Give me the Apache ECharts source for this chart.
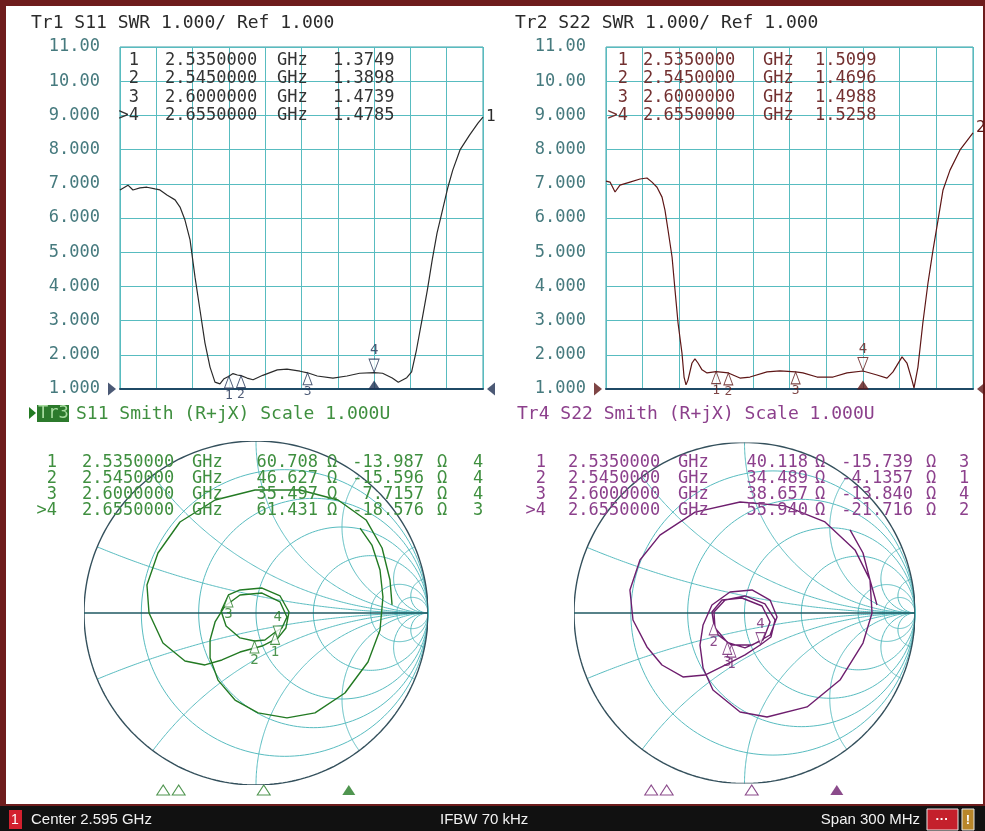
<!DOCTYPE html>
<html>
<head>
<meta charset="utf-8">
<script src="https://cdn.jsdelivr.net/npm/echarts@6/dist/echarts.min.js"></script>
<style>
  html, body { margin: 0; padding: 0; background: #fff; }
  #chart { width: 985px; height: 831px; }
</style>
</head>
<body>
<div id="chart"></div>
<script>
// sweep: center 2.595 GHz, span 300 MHz
const F_START = 2445; // MHz
const F_STOP = 2745;
const yLabels = ["11.00", "10.00", "9.000", "8.000", "7.000", "6.000", "5.000", "4.000", "3.000", "2.000", "1.000"];

// Tr1 S11 SWR (freq in MHz)
const s11Freq = [2445, 2451.6, 2455.7, 2461.5, 2467.3, 2473.9, 2478, 2483.8, 2490.5, 2494.6, 2498.7, 2502.9, 2507, 2511.1, 2515.2, 2519.4, 2523.5, 2527.6, 2531, 2535, 2538.4, 2542, 2545, 2550, 2555, 2563, 2575, 2583, 2593.8, 2600, 2608, 2621, 2632.6, 2643, 2655, 2662, 2670, 2675, 2682, 2686, 2690, 2695, 2699, 2703, 2707, 2711, 2716, 2720, 2726, 2734, 2741, 2745];
const s11Swr = [6.82, 6.96, 6.82, 6.88, 6.90, 6.85, 6.82, 6.67, 6.53, 6.32, 5.94, 5.36, 4.27, 3.31, 2.35, 1.64, 1.20, 1.15, 1.30, 1.3749, 1.45, 1.41, 1.3898, 1.32, 1.27, 1.40, 1.56, 1.58, 1.52, 1.4739, 1.38, 1.32, 1.38, 1.46, 1.4785, 1.46, 1.32, 1.20, 1.33, 1.50, 2.14, 3.10, 3.89, 4.77, 5.56, 6.15, 6.90, 7.40, 7.99, 8.43, 8.78, 8.95];

// Tr2 S22 SWR
const s22Freq = [2445, 2448.3, 2452.4, 2456.4, 2464.6, 2472.8, 2478.5, 2482.6, 2486.7, 2490.8, 2493.2, 2495.7, 2499, 2501.4, 2503.9, 2507.1, 2508.8, 2510.4, 2512, 2515.3, 2517.7, 2520.2, 2523.5, 2527.6, 2535, 2545, 2548.8, 2554.5, 2562.7, 2576.6, 2587.2, 2600, 2606, 2617.5, 2630.6, 2642, 2655, 2666.5, 2674.7, 2679.6, 2687, 2691, 2695.1, 2696.8, 2700, 2704, 2708.2, 2712.3, 2716.4, 2720.5, 2726.2, 2734.4, 2745];
const s22Swr = [7.08, 7.05, 6.76, 6.96, 7.05, 7.14, 7.17, 7.05, 6.90, 6.61, 6.23, 5.65, 4.86, 3.90, 2.93, 2.05, 1.35, 1.12, 1.26, 1.76, 1.88, 1.76, 1.56, 1.47, 1.5099, 1.4696, 1.41, 1.32, 1.35, 1.50, 1.53, 1.4988, 1.47, 1.35, 1.35, 1.47, 1.5258, 1.41, 1.32, 1.50, 1.94, 1.76, 1.26, 1.03, 1.64, 2.93, 4.10, 5.06, 5.94, 6.82, 7.40, 7.99, 8.49];

// markers
const markerIds = ["1", "2", "3", ">4"];
const markerFreq = [2535, 2545, 2600, 2655];
const markerFreqText = ["2.5350000", "2.5450000", "2.6000000", "2.6550000"];
const s11MarkerSwr = ["1.3749", "1.3898", "1.4739", "1.4785"];
const s22MarkerSwr = ["1.5099", "1.4696", "1.4988", "1.5258"];
const s11MarkerR = [60.708, 46.627, 35.497, 61.431];
const s11MarkerX = [-13.987, -15.596, 7.7157, -18.576];
const s11MarkerXText = ["-13.987", "-15.596", "7.7157", "-18.576"];
const s11MarkerTag = ["4", "4", "4", "3"];
const s22MarkerR = [40.118, 34.489, 38.657, 55.940];
const s22MarkerX = [-15.739, -4.1357, -13.840, -21.716];
const s22MarkerXText = ["-15.739", "-4.1357", "-13.840", "-21.716"];
const s22MarkerTag = ["3", "1", "4", "2"];

// Tr3 S11 Smith trace, reflection coefficient (re, im)
const s11Re = [0.605, 0.674, 0.721, 0.738, 0.721, 0.651, 0.517, 0.343, 0.180, 0.012, -0.122, -0.221, -0.267, -0.267, -0.238, -0.180, -0.093, 0.035, 0.140, 0.180, 0.151, 0.111, 0.052, -0.009, -0.093, -0.174, -0.203, -0.160, -0.093, 0.035, 0.140, 0.192, 0.174, 0.127, 0.035, -0.093, -0.198, -0.297, -0.413, -0.541, -0.622, -0.634, -0.570, -0.442, -0.238, -0.006, 0.256, 0.477, 0.640, 0.733, 0.779, 0.791];
const s11Im = [0.494, 0.395, 0.250, 0.093, -0.099, -0.285, -0.465, -0.581, -0.610, -0.581, -0.506, -0.390, -0.262, -0.157, -0.052, 0.041, 0.105, 0.116, 0.064, -0.023, -0.087, -0.112, -0.157, -0.163, -0.145, -0.076, 0.012, 0.105, 0.134, 0.145, 0.099, 0.006, -0.087, -0.146, -0.192, -0.227, -0.273, -0.302, -0.279, -0.174, 0, 0.163, 0.349, 0.529, 0.657, 0.715, 0.715, 0.657, 0.541, 0.378, 0.192, 0.047];

// Tr4 S22 Smith trace
const s22Re = [0.619, 0.695, 0.736, 0.748, 0.695, 0.560, 0.367, 0.132, -0.026, -0.185, -0.243, -0.261, -0.243, -0.191, -0.085, 0.044, 0.150, 0.191, 0.150, 0.044, -0.077, -0.155, -0.181, -0.191, -0.132, -0.015, 0.103, 0.150, 0.109, 0.003, -0.101, -0.173, -0.179, -0.114, 0.003, 0.120, 0.179, 0.155, 0.094, 0.003, -0.114, -0.232, -0.361, -0.484, -0.572, -0.654, -0.672, -0.613, -0.496, -0.290, -0.026, 0.238, 0.472, 0.648, 0.736, 0.777];
const s22Im = [0.487, 0.352, 0.194, 0, -0.176, -0.393, -0.551, -0.610, -0.581, -0.452, -0.323, -0.188, -0.070, 0.047, 0.123, 0.135, 0.076, -0.023, -0.129, -0.188, -0.188, -0.129, -0.058, 0.006, 0.076, 0.088, 0.041, -0.053, -0.158, -0.205, -0.172, -0.088, 0.006, 0.076, 0.100, 0.053, -0.041, -0.141, -0.186, -0.246, -0.305, -0.364, -0.375, -0.305, -0.199, -0.041, 0.135, 0.311, 0.457, 0.592, 0.651, 0.628, 0.534, 0.370, 0.194, 0.047];

// Smith grid values
const smithR = [0.2, 0.5, 1, 2, 5, 10];
const smithX = [0.2, 0.5, 1, 2, 5, 10];

const MONO = '"DejaVu Sans Mono", monospace';
const GRID_C = "#58bcc0";
const TEAL_LABEL = "#467a7e";
const C1 = "#2b2b2b", C1M = "#1e2f52";
const C2 = "#5e1616", C2T = "#733030";
const C3 = "#237a23", C3T = "#3f8f3f";
const C4 = "#6e1e6e", C4T = "#8c408c";

const chart = echarts.init(document.getElementById("chart"));

function gamma(R, X) {
  const a = R / 50, b = X / 50;
  const d = (a + 1) * (a + 1) + b * b;
  return [(a * a - 1 + b * b) / d, (2 * b) / d];
}

function smithGridCoords() {
  const out = [];
  smithR.forEach((r) => {
    const c = r / (1 + r), rad = 1 / (1 + r), pts = [];
    for (let k = 0; k <= 180; k++) {
      const t = (k / 180) * 2 * Math.PI;
      pts.push([c + rad * Math.cos(t), rad * Math.sin(t)]);
    }
    out.push(pts);
  });
  smithX.forEach((x) => {
    [x, -x].forEach((xx) => {
      const pts = [];
      for (let k = 0; k < 200; k++) {
        const r = Math.tan((k / 200) * Math.PI / 2);
        const d = (r + 1) * (r + 1) + xx * xx;
        pts.push([(r * r - 1 + xx * xx) / d, (2 * xx) / d]);
      }
      pts.push([1, 0]);
      out.push(pts);
    });
  });
  return out;
}

function outerCircle() {
  const pts = [];
  for (let k = 0; k <= 240; k++) {
    const t = (k / 240) * 2 * Math.PI;
    pts.push([Math.cos(t), Math.sin(t)]);
  }
  return pts;
}

const tri = {
  up: "path://M5,0 L10,12 L0,12 Z",
  down: "path://M0,0 L10,0 L5,12 Z",
  right: "path://M0,0 L10,6 L0,12 Z",
  left: "path://M10,0 L0,6 L10,12 Z",
};

function swrSeries(idx, freq, swr, traceColor, mColor, markerSwr) {
  const ms = markerSwr.map(Number);
  return [
    {
      type: "line", xAxisIndex: idx, yAxisIndex: idx, showSymbol: false, silent: true,
      lineStyle: { color: traceColor, width: 1.2 },
      data: freq.map((f, i) => [f - F_START, swr[i]]),
      z: 5,
    },
    {
      type: "scatter", xAxisIndex: idx, yAxisIndex: idx, silent: true,
      symbol: tri.up, symbolSize: [9, 12], symbolOffset: [0, 6],
      itemStyle: { color: "#fff", borderColor: mColor, borderWidth: 1 },
      label: { show: true, position: "bottom", distance: 0, color: mColor, fontFamily: MONO, fontSize: 13, formatter: (p) => p.name },
      data: [0, 1, 2].map((i) => ({ name: markerIds[i], value: [markerFreq[i] - F_START, ms[i]] })),
      z: 6,
    },
    {
      type: "scatter", xAxisIndex: idx, yAxisIndex: idx, silent: true,
      symbol: tri.down, symbolSize: [10, 13], symbolOffset: [0, -7],
      itemStyle: { color: "#fff", borderColor: mColor, borderWidth: 1 },
      label: { show: true, position: "top", distance: 1, color: mColor, fontFamily: MONO, fontSize: 14, formatter: "4" },
      data: [[markerFreq[3] - F_START, ms[3]]],
      z: 6,
    },
    {
      type: "scatter", xAxisIndex: idx, yAxisIndex: idx, silent: true,
      symbol: tri.up, symbolSize: [12, 9], symbolOffset: [0, -4],
      itemStyle: { color: mColor },
      data: [[markerFreq[3] - F_START, 1]],
      z: 6,
    },
    {
      type: "scatter", xAxisIndex: idx, yAxisIndex: idx, silent: true,
      symbol: tri.right, symbolSize: [8, 13], symbolOffset: [-8, 0],
      itemStyle: { color: mColor }, data: [[0, 1]], z: 6,
    },
    {
      type: "scatter", xAxisIndex: idx, yAxisIndex: idx, silent: true,
      symbol: tri.left, symbolSize: [8, 13], symbolOffset: [8, 0],
      itemStyle: { color: mColor }, data: [[F_STOP - F_START, 1]], z: 6,
    },
  ];
}

function smithSeries(idx, re, im, color, mR, mX) {
  const g = mR.map((r, i) => gamma(r, mX[i]));
  return [
    {
      type: "lines", coordinateSystem: "cartesian2d", xAxisIndex: idx, yAxisIndex: idx,
      polyline: true, silent: true,
      lineStyle: { color: GRID_C, width: 1, opacity: 1 },
      data: smithGridCoords().map((c) => ({ coords: c })),
      z: 2,
    },
    {
      type: "lines", coordinateSystem: "cartesian2d", xAxisIndex: idx, yAxisIndex: idx,
      polyline: true, silent: true,
      data: [
        { coords: outerCircle(), lineStyle: { color: "#34505c", width: 1.4, opacity: 1 } },
        { coords: [[-1, 0], [1, 0]], lineStyle: { color: "#1f5862", width: 1.6, opacity: 1 } },
      ],
      z: 3,
    },
    {
      type: "line", xAxisIndex: idx, yAxisIndex: idx, showSymbol: false, silent: true,
      lineStyle: { color: color, width: 1.4 },
      data: re.map((v, i) => [v, im[i]]),
      z: 5,
    },
    {
      type: "scatter", xAxisIndex: idx, yAxisIndex: idx, silent: true,
      symbol: tri.up, symbolSize: [9, 12], symbolOffset: [0, 6],
      itemStyle: { color: "#fff", borderColor: color, borderWidth: 1 },
      label: { show: true, position: "bottom", distance: 0, color: color, fontFamily: MONO, fontSize: 14, formatter: (p) => p.name },
      data: [0, 1, 2].map((i) => ({ name: markerIds[i], value: g[i] })),
      z: 6,
    },
    {
      type: "scatter", xAxisIndex: idx, yAxisIndex: idx, silent: true,
      symbol: tri.down, symbolSize: [9, 12], symbolOffset: [0, -6],
      itemStyle: { color: "#fff", borderColor: color, borderWidth: 1 },
      label: { show: true, position: "top", distance: 1, color: color, fontFamily: MONO, fontSize: 14, formatter: "4" },
      data: [g[3]],
      z: 6,
    },
  ];
}

function stripSeries(idx, color) {
  return [
    {
      type: "scatter", xAxisIndex: idx, yAxisIndex: idx, silent: true,
      symbol: tri.up, symbolSize: [13, 10],
      itemStyle: { color: "#fff", borderColor: color, borderWidth: 1 },
      data: [0, 1, 2].map((i) => [markerFreq[i] - F_START, 0.5]),
    },
    {
      type: "scatter", xAxisIndex: idx, yAxisIndex: idx, silent: true,
      symbol: tri.up, symbolSize: [13, 10],
      itemStyle: { color: color },
      data: [[markerFreq[3] - F_START, 0.5]],
    },
  ];
}

const swrX = (g) => ({
  gridIndex: g, type: "value", min: 0, max: F_STOP - F_START, interval: 30,
  axisLabel: { show: false }, axisTick: { show: false },
  axisLine: { show: true, onZero: false, lineStyle: { color: "#1f4a66", width: 2 } },
  splitLine: { show: true, lineStyle: { color: GRID_C, width: 1 } },
});
const swrY = (g) => ({
  gridIndex: g, type: "value", min: 1, max: 11, interval: 1,
  axisLine: { show: false }, axisTick: { show: false },
  axisLabel: { margin: 20, color: TEAL_LABEL, fontFamily: MONO, fontSize: 17, formatter: (v) => yLabels[11 - v] },
  splitLine: { show: true, lineStyle: { color: GRID_C, width: 1 } },
});
const hidden = (g, min, max) => ({ gridIndex: g, type: "value", min, max, show: false, splitLine: { show: false } });

// text helpers
const T = (text, x, y, fill, size, align, extra) =>
  Object.assign({ type: "text", z: 20, silent: true, style: { text, x, y, fill, font: size + "px " + MONO, textAlign: align || "left", textVerticalAlign: "middle" } }, extra || {});

const texts = [];
texts.push(T("Tr1 S11 SWR 1.000/ Ref 1.000", 31, 23, "#2a2a2a", 18));
texts.push(T("Tr2 S22 SWR 1.000/ Ref 1.000", 515, 23, "#2a2a2a", 18));
const topRows = [61, 79, 98, 116];
markerIds.forEach((id, i) => {
  const y = topRows[i];
  texts.push(T(id, 139, y, "#333", 17, "right"));
  texts.push(T(markerFreqText[i], 165, y, "#333", 17));
  texts.push(T("GHz", 277, y, "#333", 17));
  texts.push(T(s11MarkerSwr[i], 333, y, "#333", 17));
  texts.push(T(id, 628, y, C2T, 17, "right"));
  texts.push(T(markerFreqText[i], 643, y, C2T, 17));
  texts.push(T("GHz", 763, y, C2T, 17));
  texts.push(T(s22MarkerSwr[i], 815, y, C2T, 17));
});
texts.push(T("1", 486, 117, C1, 16));
texts.push(T("2", 976, 128, C2, 16));

// Smith headers
texts.push({ type: "polygon", z: 20, silent: true, shape: { points: [[29, 407], [36, 413], [29, 419]] }, style: { fill: C3 } });
texts.push({ type: "rect", z: 19, silent: true, shape: { x: 37, y: 405, width: 32, height: 17 }, style: { fill: "#2c7a2c" } });
texts.push(T("Tr3", 38, 414, "#a8dca0", 17));
texts.push(T("S11 Smith (R+jX) Scale 1.000U", 76, 414, C3T, 18));
texts.push(T("Tr4 S22 Smith (R+jX) Scale 1.000U", 517, 414, C4T, 18));

const smithRows = [463, 479, 495, 511];
markerIds.forEach((id, i) => {
  const y = smithRows[i];
  texts.push(T(id, 57, y, C3T, 17, "right"));
  texts.push(T(markerFreqText[i], 82, y, C3T, 17));
  texts.push(T("GHz", 192, y, C3T, 17));
  texts.push(T(s11MarkerR[i].toFixed(3), 318, y, C3T, 17, "right"));
  texts.push(T("Ω", 327, y, C3T, 17));
  texts.push(T(s11MarkerXText[i], 424, y, C3T, 17, "right"));
  texts.push(T("Ω", 437, y, C3T, 17));
  texts.push(T(s11MarkerTag[i], 473, y, C3T, 17));

  texts.push(T(id, 546, y, C4T, 17, "right"));
  texts.push(T(markerFreqText[i], 568, y, C4T, 17));
  texts.push(T("GHz", 678, y, C4T, 17));
  texts.push(T(s22MarkerR[i].toFixed(3), 808, y, C4T, 17, "right"));
  texts.push(T("Ω", 815, y, C4T, 17));
  texts.push(T(s22MarkerXText[i], 913, y, C4T, 17, "right"));
  texts.push(T("Ω", 926, y, C4T, 17));
  texts.push(T(s22MarkerTag[i], 959, y, C4T, 17));
});

// frame + status bar
const SANS = '"Liberation Sans", Arial, sans-serif';
const frame = [
  { type: "rect", z: -10, silent: true, shape: { x: 0, y: 0, width: 985, height: 831 }, style: { fill: "#6e1d1d" } },
  { type: "rect", z: -9, silent: true, shape: { x: 6, y: 6, width: 977, height: 798 }, style: { fill: "#ffffff" } },
  { type: "rect", z: 20, silent: true, shape: { x: 0, y: 806, width: 985, height: 25 }, style: { fill: "#111111" } },
  { type: "rect", z: 21, silent: true, shape: { x: 9, y: 810, width: 13, height: 19 }, style: { fill: "#d3202e" } },
  { type: "text", z: 22, silent: true, style: { text: "1", x: 15, y: 820, fill: "#fff", font: "14px " + SANS, textAlign: "center", textVerticalAlign: "middle" } },
  { type: "text", z: 22, silent: true, style: { text: "Center 2.595 GHz", x: 31, y: 820, fill: "#f2f2f2", font: "15px " + SANS, textVerticalAlign: "middle" } },
  { type: "text", z: 22, silent: true, style: { text: "IFBW 70 kHz", x: 440, y: 820, fill: "#f2f2f2", font: "15px " + SANS, textVerticalAlign: "middle" } },
  { type: "text", z: 22, silent: true, style: { text: "Span 300 MHz", x: 920, y: 820, fill: "#f2f2f2", font: "15px " + SANS, textAlign: "right", textVerticalAlign: "middle" } },
  { type: "rect", z: 21, silent: true, shape: { x: 927, y: 809, width: 31, height: 21 }, style: { fill: "#c4202c", stroke: "#e8e8e8", lineWidth: 1 } },
  { type: "text", z: 22, silent: true, style: { text: "···", x: 942, y: 819, fill: "#fff", font: "bold 13px " + SANS, textAlign: "center", textVerticalAlign: "middle" } },
  { type: "rect", z: 21, silent: true, shape: { x: 962, y: 809, width: 12, height: 21 }, style: { fill: "#b8862a", stroke: "#e8e8e8", lineWidth: 1 } },
  { type: "text", z: 22, silent: true, style: { text: "!", x: 968, y: 820, fill: "#fff", font: "bold 13px " + SANS, textAlign: "center", textVerticalAlign: "middle" } },
];

const option = {
  animation: false,
  backgroundColor: "#ffffff",
  grid: [
    { left: 120, top: 47, width: 363, height: 342, show: true, borderColor: "#3a9ea4", borderWidth: 1, backgroundColor: "transparent" },
    { left: 606, top: 47, width: 367, height: 342, show: true, borderColor: "#3a9ea4", borderWidth: 1, backgroundColor: "transparent" },
    { left: 84, top: 441, width: 344, height: 344 },
    { left: 574, top: 442.5, width: 341, height: 341 },
    { left: 24, top: 783, width: 464, height: 14 },
    { left: 512, top: 783, width: 464, height: 14 },
  ],
  xAxis: [swrX(0), swrX(1), hidden(2, -1, 1), hidden(3, -1, 1), hidden(4, 0, 300), hidden(5, 0, 300)],
  yAxis: [swrY(0), swrY(1), hidden(2, -1, 1), hidden(3, -1, 1), hidden(4, 0, 1), hidden(5, 0, 1)],
  series: [
    ...swrSeries(0, s11Freq, s11Swr, C1, C1M, s11MarkerSwr),
    ...swrSeries(1, s22Freq, s22Swr, C2, C2, s22MarkerSwr),
    ...smithSeries(2, s11Re, s11Im, C3, s11MarkerR, s11MarkerX),
    ...smithSeries(3, s22Re, s22Im, C4, s22MarkerR, s22MarkerX),
    ...stripSeries(4, C3),
    ...stripSeries(5, C4),
  ],
  graphic: { elements: [...frame, ...texts] },
};

chart.setOption(option);
</script>
</body>
</html>
